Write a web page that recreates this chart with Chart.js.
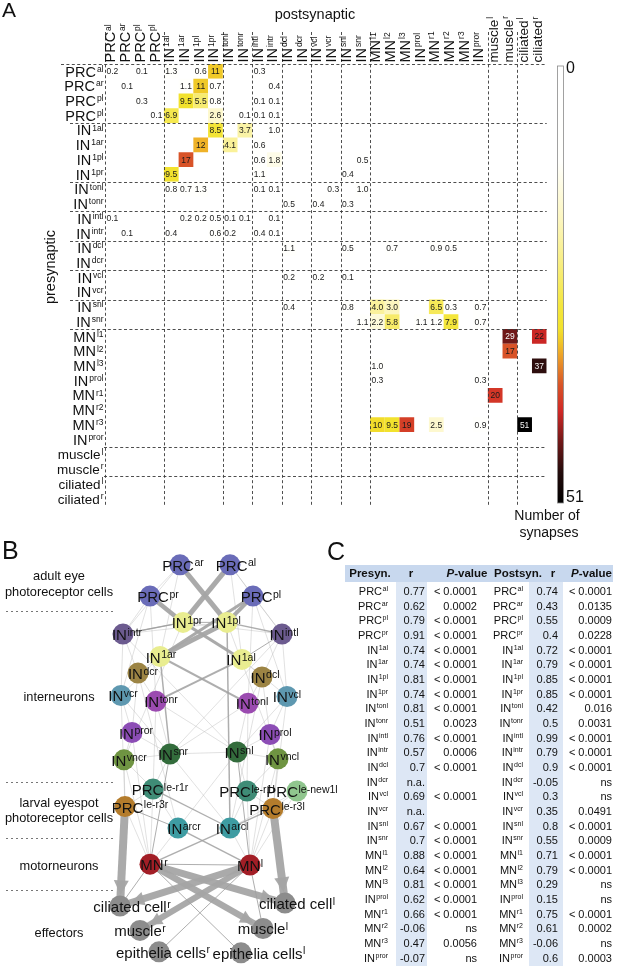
<!DOCTYPE html>
<html><head><meta charset="utf-8">
<script src="https://cdn.jsdelivr.net/npm/chart.js@4.4.1/dist/chart.umd.min.js"></script>
<style>
html,body{margin:0;padding:0;background:#fff;}
body{width:617px;height:976px;position:relative;overflow:hidden;font-family:"Liberation Sans",Arial,Helvetica,sans-serif;}
#cA{position:absolute;left:0;top:0;}
#cB{position:absolute;left:0;top:540px;}
#tableC{position:absolute;left:0;top:0;width:617px;height:976px;}
.t{position:absolute;white-space:nowrap;font-size:11px;line-height:14px;color:#111;}
.t sup{font-size:7px;vertical-align:0;position:relative;top:-4px;margin-left:0.5px;}
.bg{position:absolute;}
</style></head><body>
<canvas id="cA" width="617" height="540"></canvas>
<canvas id="cB" width="345" height="436"></canvas>
<div id="tableC"></div>
<script>
const FONT = '"Liberation Sans", Arial, Helvetica, sans-serif';

// ================= PANEL A DATA =================
const cellMain = ["PRC","PRC","PRC","PRC","IN","IN","IN","IN","IN","IN","IN","IN","IN","IN","IN","IN","IN","IN","MN","MN","MN","IN","MN","MN","MN","IN","muscle","muscle","ciliated","ciliated"];
const cellSup  = ["al","ar","pl","pl","1al","1ar","1pl","1pr","tonl","tonr","intl","intr","dcl","dcr","vcl","vcr","snl","snr","l1","l2","l3","prol","r1","r2","r3","pror","l","r","l","r"];
const groupStarts = [0,4,8,10,12,14,16,18,26,28];
// [presynaptic row, postsynaptic column, number of synapses]
const synapses = [
 [0,0,0.2],[0,2,0.1],[0,4,1.3],[0,6,0.6],[0,7,11],[0,10,0.3],
 [1,1,0.1],[1,5,1.1],[1,6,11],[1,7,0.7],[1,11,0.4],
 [2,2,0.3],[2,5,9.5],[2,6,5.5],[2,7,0.8],[2,10,0.1],[2,11,0.1],
 [3,3,0.1],[3,4,6.9],[3,7,2.6],[3,9,0.1],[3,10,0.1],[3,11,0.1],
 [4,7,8.5],[4,9,3.7],[4,11,1.0],
 [5,6,12],[5,8,4.1],[5,10,0.6],
 [6,5,17],[6,10,0.6],[6,11,1.8],[6,17,0.5],
 [7,4,9.5],[7,10,1.1],[7,16,0.4],
 [8,4,0.8],[8,5,0.7],[8,6,1.3],[8,10,0.1],[8,11,0.1],[8,15,0.3],[8,17,1.0],
 [9,12,0.5],[9,14,0.4],[9,16,0.3],
 [10,0,0.1],[10,5,0.2],[10,6,0.2],[10,7,0.5],[10,8,0.1],[10,9,0.1],[10,11,0.1],
 [11,1,0.1],[11,4,0.4],[11,7,0.6],[11,8,0.2],[11,10,0.4],[11,11,0.1],
 [12,12,1.1],[12,16,0.5],[12,19,0.7],[12,22,0.9],[12,23,0.5],
 [14,12,0.2],[14,14,0.2],[14,16,0.1],
 [16,12,0.4],[16,16,0.8],[16,18,4.0],[16,19,3.0],[16,22,6.5],[16,23,0.3],[16,25,0.7],
 [17,17,1.1],[17,18,2.2],[17,19,5.8],[17,21,1.1],[17,22,1.2],[17,23,7.9],[17,25,0.7],
 [18,27,29],[18,29,22],
 [19,27,17],
 [20,18,1.0],[20,29,37],
 [21,18,0.3],[21,25,0.3],
 [22,26,20],
 [24,18,10],[24,19,9.5],[24,20,19],[24,22,2.5],[24,25,0.9],[24,28,51]
];
const colorbarTicks = [0, 51];

// colour map (white -> yellow -> red -> black), log-like scale
const cmapStops = [[0,[255,255,255]],[0.22,[255,255,252]],[0.35,[252,246,192]],[0.45,[248,238,130]],[0.55,[244,230,60]],[0.6,[242,226,44]],[0.63,[240,200,40]],[0.66,[238,165,40]],[0.73,[216,84,40]],[0.79,[208,40,38]],[0.86,[112,24,24]],[0.93,[36,12,12]],[1,[0,0,0]]];
function cmapRGB(t){
  t=Math.max(0,Math.min(1,t));
  for(let i=1;i<cmapStops.length;i++){
    if(t<=cmapStops[i][0]){
      const t0=cmapStops[i-1][0],c0=cmapStops[i-1][1],t1=cmapStops[i][0],c1=cmapStops[i][1];
      const f=(t-t0)/(t1-t0);
      return c0.map((c,k)=>Math.round(c+(c1[k]-c)*f));
    }
  }
  return [0,0,0];
}
function cmap(t){const c=cmapRGB(t);return 'rgb('+c[0]+','+c[1]+','+c[2]+')';}
function tOf(v){return Math.log(1+v)/Math.log(1+colorbarTicks[1]);}
function fmt(v){return v>=10?String(Math.round(v)):v.toFixed(1);}

function drawSup(ctx,x,y,main,sup,mainPx,supPx,align,raise,gap){
  gap = gap===undefined?0.5:gap;
  ctx.font=mainPx+'px '+FONT; const wm=ctx.measureText(main).width;
  ctx.font=supPx+'px '+FONT; const ws=ctx.measureText(sup).width;
  let x0 = align==='right'? x-wm-ws-gap : align==='center'? x-(wm+ws+gap)/2 : x;
  ctx.textAlign='left'; ctx.textBaseline='alphabetic';
  ctx.font=mainPx+'px '+FONT; ctx.fillText(main,x0,y);
  ctx.font=supPx+'px '+FONT; ctx.fillText(sup,x0+wm+gap,y-raise);
}

const matrixDecor = {
  id:'matrixDecor',
  afterDatasetsDraw(chart){
    const ctx=chart.ctx, sx=chart.scales.x, sy=chart.scales.y, area=chart.chartArea;
    ctx.save();
    // numbers
    ctx.textAlign='center'; ctx.textBaseline='middle';
    ctx.font='8.5px '+FONT;
    synapses.forEach(s=>{
      const x=sx.getPixelForValue(s[1]), y=sy.getPixelForValue(s[0]);
      ctx.fillStyle = tOf(s[2])>0.84 ? '#f4f4f4' : '#1a1a1a';
      ctx.fillText(fmt(s[2]), x, y+0.5);
    });
    // dashed separators
    ctx.strokeStyle='#3a3a3a'; ctx.lineWidth=0.9; ctx.setLineDash([3,2.4]);
    groupStarts.forEach(b=>{
      const xb=Math.round(sx.getPixelForValue(b-0.5))+0.5;
      ctx.beginPath(); ctx.moveTo(xb,32); ctx.lineTo(xb,area.bottom+1); ctx.stroke();
      const yb=Math.round(sy.getPixelForValue(b-0.5))+0.5;
      const x0 = b===0?61:(b>=26?104:70);
      ctx.beginPath(); ctx.moveTo(x0,yb); ctx.lineTo(area.right,yb); ctx.stroke();
    });
    ctx.setLineDash([]);
    // row labels
    ctx.fillStyle='#111';
    cellMain.forEach((m,i)=>{
      const y=sy.getPixelForValue(i);
      const px = (m==='muscle'||m==='ciliated')?13.5:14.5;
      drawSup(ctx,103.5,y+5.2,m,cellSup[i],px,8.5,'right',4.8,1);
    });
    // column labels (rotated)
    cellMain.forEach((m,i)=>{
      const x=sx.getPixelForValue(i);
      const px = (m==='muscle'||m==='ciliated')?13.5:14.5;
      ctx.save(); ctx.translate(x+3,62.5); ctx.rotate(-Math.PI/2);
      drawSup(ctx,0,0,m,cellSup[i],px,8.5,'left',4.8,1);
      ctx.restore();
    });
    // titles
    ctx.textAlign='center'; ctx.textBaseline='middle';
    ctx.font='14.5px '+FONT; ctx.fillText('postsynaptic',315,15);
    ctx.save(); ctx.translate(51,267); ctx.rotate(-Math.PI/2); ctx.fillText('presynaptic',0,0); ctx.restore();
    ctx.textAlign='left'; ctx.textBaseline='alphabetic';
    ctx.font='21px '+FONT; ctx.fillText('A',2,17);
    // colour bar
    const cbTop=66, cbBot=503, cbL=557.5, cbW=6;
    const g=ctx.createLinearGradient(0,cbTop,0,cbBot);
    cmapStops.forEach(s=>g.addColorStop(s[0],cmap(s[0])));
    ctx.fillStyle=g; ctx.fillRect(cbL,cbTop,cbW,cbBot-cbTop);
    ctx.strokeStyle='#8a8a8a'; ctx.lineWidth=0.8; ctx.strokeRect(cbL,cbTop,cbW,cbBot-cbTop);
    ctx.fillStyle='#111'; ctx.textBaseline='middle'; ctx.textAlign='left';
    ctx.font='16px '+FONT;
    ctx.fillText(String(colorbarTicks[0]),566,69);
    ctx.fillText(String(colorbarTicks[1]),566,498);
    ctx.textAlign='center'; ctx.font='14px '+FONT;
    ctx.fillText('Number of',547,516); ctx.fillText('synapses',549,533);
    ctx.restore();
  }
};

new Chart(document.getElementById('cA'),{
  type:'scatter',
  data:{datasets:[{
    data:synapses.map(s=>({x:s[1],y:s[0],v:s[2]})),
    pointStyle:'rect',
    pointRadius:(c)=>{const s=c.chart.scales&&c.chart.scales.x; if(!s) return 10.4; return Math.abs(s.getPixelForValue(1)-s.getPixelForValue(0))/Math.SQRT2;},
    pointHoverRadius:(c)=>{const s=c.chart.scales&&c.chart.scales.x; if(!s) return 10.4; return Math.abs(s.getPixelForValue(1)-s.getPixelForValue(0))/Math.SQRT2;},
    backgroundColor:(c)=>cmap(tOf(c.raw?c.raw.v:0)),
    borderWidth:0
  }]},
  options:{
    responsive:false, animation:false, events:[],
    layout:{padding:{left:105,right:70.3,top:64,bottom:34.3}},
    plugins:{legend:{display:false},tooltip:{enabled:false}},
    scales:{
      x:{type:'linear',min:-0.5,max:29.5,display:false},
      y:{type:'linear',min:-0.5,max:29.5,reverse:true,display:false}
    }
  },
  plugins:[matrixDecor]
});

// ================= PANEL B DATA =================
const nodeMain = ["PRC","PRC","PRC","PRC","IN","IN","IN","IN","IN","IN","IN","IN","IN","IN","IN","IN","IN","IN","IN","IN","IN","IN","PRC","PRC","PRC","PRC","PRC","IN","IN","MN","MN","ciliated cell","ciliated cell","muscle","muscle","epithelia cells","epithelia cells"];
const nodeSup  = ["ar","al","pr","pl","1pr","1pl","intr","intl","1ar","1al","dcr","dcl","vcr","vcl","tonr","tonl","pror","prol","snr","snl","vncr","vncl","le-r1r","le-r1l","le-new1l","le-r3r","le-r3l","arcr","arcl","r","l","r","l","r","l","r","l"];
// layout coordinates of the network nodes
const nodeX = [80,130,50,153,83,127,23,182,60,142,38,162,21,187,56,148,32,170,70,137,24,178,53,147,197,25,173,78,130,50,150,20,185,40,163,59,141];
const nodeY = [5,5,37,37,64,64,76,76,99,102,116,120,139,140,145,147,177,179,199,197,205,204,235,237,237,253,255,275,275,312,313,355,352,380,378,402,403];
const nodeColors = ['#6a6cb8','#6a6cb8','#6a6cb8','#6a6cb8','#e9ed90','#e9ed90','#6c5b8f','#6c5b8f','#e9ed90','#e9ed90','#9c8444','#9c8444','#5e98b0','#5e98b0','#9b4bb0','#9b4bb0','#8c4db5','#8c4db5','#336c3c','#336c3c','#6f9442','#6f9442','#3f8c76','#3f8c76','#90c68e','#b47c2c','#b47c2c','#3e9ca2','#3e9ca2','#a21e26','#a21e26','#8c8c8c','#8c8c8c','#8c8c8c','#8c8c8c','#8c8c8c','#8c8c8c'];
const labelDx = [3,6,8,8,4,-1,4,2,1,-1,5,3,2,0,5,4,4,5,3,2,5,4,7,0,5,15,4,6,2,4,0,12,12,0,0,4,18];
// [from, to, connection strength]
const strongEdges = [
 [0,5,10],[1,4,10],[2,4,9],[3,5,8],[3,8,6],[5,8,10],[4,9,6],[8,15,4],[9,14,4],
 [4,6,3],[5,7,3],[8,18,3],[5,28,3],[22,28,2.5],[26,28,3],[25,27,2],[28,29,3],[27,30,3],
 [29,30,2],[18,29,2],[19,30,2],[29,31,2],[30,34,2],[29,36,2],[30,35,2],[4,5,2],[6,4,2],[9,7,2],
 [25,31,16],[26,32,16],[29,32,14],[29,34,13],[30,31,14],[30,33,12]
];
const weakEdges = [
 [0,6],[0,8],[1,7],[1,9],[2,6],[3,7],[6,5],[7,4],[6,10],[7,11],[8,12],[9,13],[10,14],[11,15],[12,16],[13,17],
 [14,18],[15,19],[16,18],[17,19],[18,20],[19,21],[20,25],[21,26],[18,19],[14,19],[15,18],[10,27],[11,28],
 [12,25],[13,26],[18,22],[19,23],[20,29],[21,30],[16,29],[17,30],[6,19],[7,18],[2,14],[3,15],[18,28],[19,27],
 [24,28],[24,30],[12,18],[13,19],[4,20],[5,21],[22,27],[23,28],[25,29],[26,30],[22,29],[23,30],[0,2],[1,3],
 [2,12],[3,13],[6,12],[7,13],[10,16],[11,17],[14,22],[15,23],[16,20],[17,21],[8,10],[9,11],[27,29],[28,30],
 [22,25],[23,26],[20,22],[21,23],[24,26]
];
const nodeRadius = 10.5;

const edgeDatasets = [];
weakEdges.forEach(e=>{
  edgeDatasets.push({type:'scatter',showLine:true,data:[{x:nodeX[e[0]],y:nodeY[e[0]]},{x:nodeX[e[1]],y:nodeY[e[1]]}],
    borderColor:'rgba(185,185,185,0.55)',borderWidth:0.8,pointRadius:0,pointHoverRadius:0,order:2,clip:false,fill:false});
});
strongEdges.forEach(e=>{
  edgeDatasets.push({type:'scatter',showLine:true,data:[{x:nodeX[e[0]],y:nodeY[e[0]]},{x:nodeX[e[1]],y:nodeY[e[1]]}],
    borderColor:e[2]>=6?'rgba(165,165,165,0.95)':'rgba(160,160,160,0.85)',borderWidth:e[2]*0.5,pointRadius:0,pointHoverRadius:0,order:1,clip:false,fill:false,borderCapStyle:'butt'});
});

const netDecor = {
  id:'netDecor',
  beforeDatasetsDraw(chart){
    const ctx=chart.ctx, sx=chart.scales.x, sy=chart.scales.y;
    ctx.save();
    ctx.fillStyle='rgba(165,165,165,0.95)';
    strongEdges.filter(e=>e[2]>=12).forEach(e=>{
      const x0=sx.getPixelForValue(nodeX[e[0]]), y0=sy.getPixelForValue(nodeY[e[0]]);
      const x1=sx.getPixelForValue(nodeX[e[1]]), y1=sy.getPixelForValue(nodeY[e[1]]);
      const dx=x1-x0, dy=y1-y0, L=Math.hypot(dx,dy), ux=dx/L, uy=dy/L;
      const w=e[2]*0.5, tipX=x1-ux*(nodeRadius+0.5), tipY=y1-uy*(nodeRadius+0.5);
      const len=6+w*1.1, hw=w*0.5+3.5;
      const bx=tipX-ux*len, by=tipY-uy*len;
      ctx.beginPath(); ctx.moveTo(tipX,tipY); ctx.lineTo(bx-uy*hw,by+ux*hw); ctx.lineTo(bx+uy*hw,by-ux*hw); ctx.closePath(); ctx.fill();
    });
    ctx.restore();
  },
  afterDatasetsDraw(chart){
    const ctx=chart.ctx, sx=chart.scales.x, sy=chart.scales.y;
    ctx.save();
    ctx.fillStyle='#111';
    nodeMain.forEach((m,i)=>{
      const x=sx.getPixelForValue(nodeX[i])+labelDx[i], y=sy.getPixelForValue(nodeY[i]);
      drawSup(ctx,x,y+6,m,nodeSup[i],15,10.5,'center',4.5);
    });
    // category labels
    ctx.fillStyle='#111'; ctx.textAlign='center'; ctx.textBaseline='middle'; ctx.font='12.8px '+FONT;
    const off=540;
    [['adult eye',576],['photoreceptor cells',592],['interneurons',697],['larval eyespot',803],['photoreceptor cells',818],['motorneurons',866],['effectors',933]].forEach(t=>ctx.fillText(t[0],59,t[1]-off));
    ctx.strokeStyle='#777'; ctx.lineWidth=1; ctx.setLineDash([2,3]);
    [611,782,838,890].forEach(y=>{ctx.beginPath();ctx.moveTo(6,y-off+0.5);ctx.lineTo(113,y-off+0.5);ctx.stroke();});
    ctx.setLineDash([]);
    ctx.textAlign='left'; ctx.textBaseline='alphabetic'; ctx.font='25px '+FONT;
    ctx.fillText('B',2,19);
    ctx.restore();
  }
};

new Chart(document.getElementById('cB'),{
  type:'scatter',
  data:{datasets:[{
    data:nodeX.map((x,i)=>({x:x,y:nodeY[i]})),
    backgroundColor:nodeColors, borderWidth:0, pointRadius:nodeRadius, pointHoverRadius:nodeRadius, order:0, clip:false
  }].concat(edgeDatasets)},
  options:{
    responsive:false, animation:false, events:[],
    layout:{padding:{left:100,right:28,top:20,bottom:0}},
    plugins:{legend:{display:false},tooltip:{enabled:false}},
    scales:{
      x:{type:'linear',min:0,max:217,display:false},
      y:{type:'linear',min:0,max:416,reverse:true,display:false}
    }
  },
  plugins:[netDecor]
});

// ================= PANEL C DATA =================
const tblMain = cellMain.slice(0,26);
const tblSup = ["al","ar","pl","pr","1al","1ar","1pl","1pr","tonl","tonr","intl","intr","dcl","dcr","vcl","vcr","snl","snr","l1","l2","l3","prol","r1","r2","r3","pror"];
const preR  = [0.77,0.62,0.79,0.91,0.74,0.74,0.81,0.74,0.81,0.51,0.76,0.57,0.7,null,0.69,null,0.67,0.7,0.88,0.64,0.81,0.62,0.66,-0.06,0.47,-0.07];
const preP  = ["< 0.0001","0.0002","< 0.0001","< 0.0001","< 0.0001","< 0.0001","< 0.0001","< 0.0001","< 0.0001","0.0023","< 0.0001","0.0006","< 0.0001","","< 0.0001","","< 0.0001","< 0.0001","< 0.0001","< 0.0001","< 0.0001","< 0.0001","< 0.0001","ns","0.0056","ns"];
const postR = [0.74,0.43,0.55,0.4,0.72,0.79,0.85,0.85,0.42,0.5,0.99,0.79,0.9,-0.05,0.3,0.35,0.8,0.55,0.71,0.79,0.29,0.15,0.75,0.61,-0.06,0.6];
const postP = ["< 0.0001","0.0135","0.0009","0.0228","< 0.0001","< 0.0001","< 0.0001","< 0.0001","0.016","0.0031","< 0.0001","< 0.0001","< 0.0001","ns","ns","0.0491","< 0.0001","0.0009","< 0.0001","< 0.0001","ns","ns","< 0.0001","0.0002","ns","0.0003"];

(function buildTable(){
  const C=document.getElementById('tableC');
  function bg(x,y,w,h,col){const d=document.createElement('div');d.className='bg';Object.assign(d.style,{left:x+'px',top:y+'px',width:w+'px',height:h+'px',background:col});C.appendChild(d);}
  function put(html,x,y,align,extra){
    const d=document.createElement('div'); d.className='t'; d.innerHTML=html; d.style.top=(y-7)+'px';
    if(align==='right'){d.style.right=(617-x)+'px';}
    else if(align==='center'){d.style.left=(x-60)+'px';d.style.width='120px';d.style.textAlign='center';}
    else d.style.left=x+'px';
    if(extra) Object.assign(d.style,extra);
    C.appendChild(d);
  }
  const y0=591, dy=14.67;
  bg(345,565,268,17,'#c8d8ee');
  bg(396,582,31,384,'#dde7f5');
  bg(529,582,34,384,'#dde7f5');
  const hs={fontSize:'11.5px',fontWeight:'bold'};
  put('Presyn.',370,573,'center',hs);
  put('r',411,573,'center',hs);
  put('<i>P</i>-value',467,573,'center',hs);
  put('Postsyn.',518,573,'center',hs);
  put('r',553,573,'center',hs);
  put('<i>P</i>-value',612,573,'right',hs);
  tblMain.forEach((m,i)=>{
    const y=y0+dy*i;
    const lab=m+'<sup>'+tblSup[i]+'</sup>';
    put(lab,388,y,'right');
    put(preR[i]===null?'n.a.':String(preR[i]),425,y,'right');
    if(preP[i]) put(preP[i],477,y,'right');
    put(lab,523,y,'right');
    put(postR[i]===null?'n.a.':String(postR[i]),558,y,'right');
    if(postP[i]) put(postP[i],612,y,'right');
  });
  put('C',327,551,'left',{fontSize:'25px',lineHeight:'25px',top:'539px'});
})();
</script>
</body></html>
